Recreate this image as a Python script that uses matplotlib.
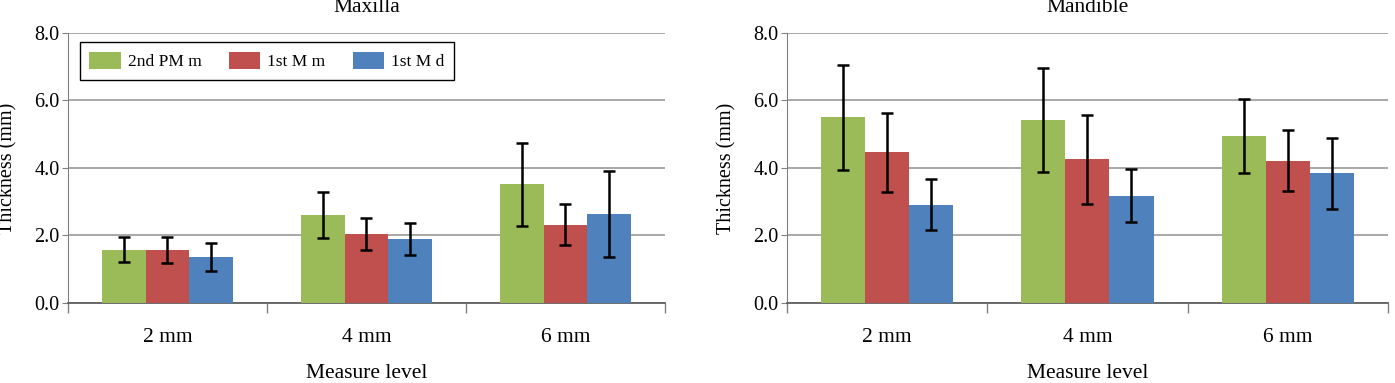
#!/usr/bin/env python3

import matplotlib.pyplot as plt
import numpy as np

# measurement levels and tooth sites
levels = ["2 mm", "4 mm", "6 mm"]
sites = ["2nd PM m", "1st M m", "1st M d"]
colors = ["#9BBB59", "#C0504D", "#4F81BD"]

# Maxilla: mean thickness (mm) and SD per site, one value per level
maxilla_mean = {
    "2nd PM m": [1.58, 2.61, 3.52],
    "1st M m":  [1.58, 2.04, 2.32],
    "1st M d":  [1.37, 1.90, 2.64],
}
maxilla_sd = {
    "2nd PM m": [0.37, 0.68, 1.23],
    "1st M m":  [0.39, 0.48, 0.60],
    "1st M d":  [0.42, 0.47, 1.27],
}

# Mandible
mandible_mean = {
    "2nd PM m": [5.50, 5.42, 4.95],
    "1st M m":  [4.46, 4.26, 4.22],
    "1st M d":  [2.91, 3.18, 3.84],
}
mandible_sd = {
    "2nd PM m": [1.55, 1.54, 1.10],
    "1st M m":  [1.16, 1.32, 0.90],
    "1st M d":  [0.75, 0.78, 1.05],
}

plt.rcParams['font.family'] = ['Liberation Serif', 'DejaVu Serif']


def draw_panel(ax, title, means, sds, legend=False):
    x = np.arange(len(levels))
    width = 0.22
    for i, site in enumerate(sites):
        ax.bar(x + (i - 1) * width, means[site], width, color=colors[i],
               yerr=sds[site], capsize=4,
               error_kw=dict(ecolor='black', elinewidth=1.8, capthick=1.8),
               label=site, zorder=3)

    ax.set_xlim(-0.5, len(levels) - 0.5)
    ax.set_ylim(0, 8)
    ax.set_yticks([0, 2, 4, 6, 8])
    ax.set_yticklabels([f"{v:.1f}" for v in [0, 2, 4, 6, 8]], fontsize=14.5)
    ax.yaxis.grid(True, color='#9a9a9a', linewidth=1.2, zorder=0)
    ax.set_axisbelow(True)

    # category labels centred, tick marks at the boundaries
    ax.set_xticks(x)
    ax.set_xticklabels(levels, fontsize=15.5)
    ax.tick_params(axis='x', length=0, pad=18)
    ax.set_xticks(np.arange(-0.5, len(levels)), minor=True)
    ax.tick_params(axis='x', which='minor', length=7, color='#808080', width=1)
    ax.tick_params(axis='y', length=4, color='#808080', pad=2)

    for s in ['top', 'right']:
        ax.spines[s].set_visible(False)
    ax.spines['left'].set_color('#808080')
    ax.spines['bottom'].set_color('#606060')
    ax.spines['bottom'].set_linewidth(1.3)

    ax.set_title(title, fontsize=15.5, pad=15)
    ax.set_xlabel("Measure level", fontsize=15.5, labelpad=12)
    ax.set_ylabel("Thickness (mm)", fontsize=14.5, labelpad=12)

    if legend:
        ax.legend(loc='upper left', ncol=3, fontsize=12.5, frameon=True,
                  fancybox=False, edgecolor='black', framealpha=1,
                  handlelength=1.8, handleheight=1.1, handletextpad=0.4,
                  columnspacing=1.6, bbox_to_anchor=(0.02, 0.965),
                  borderpad=0.55, borderaxespad=0)


fig = plt.figure(figsize=(13.95, 3.83), dpi=100)
ax1 = fig.add_axes([0.0487, 0.2089, 0.428, 0.705])
ax2 = fig.add_axes([0.564, 0.2089, 0.431, 0.705])

draw_panel(ax1, "Maxilla", maxilla_mean, maxilla_sd, legend=True)
draw_panel(ax2, "Mandible", mandible_mean, mandible_sd)

fig.savefig("out.png", dpi=100)
